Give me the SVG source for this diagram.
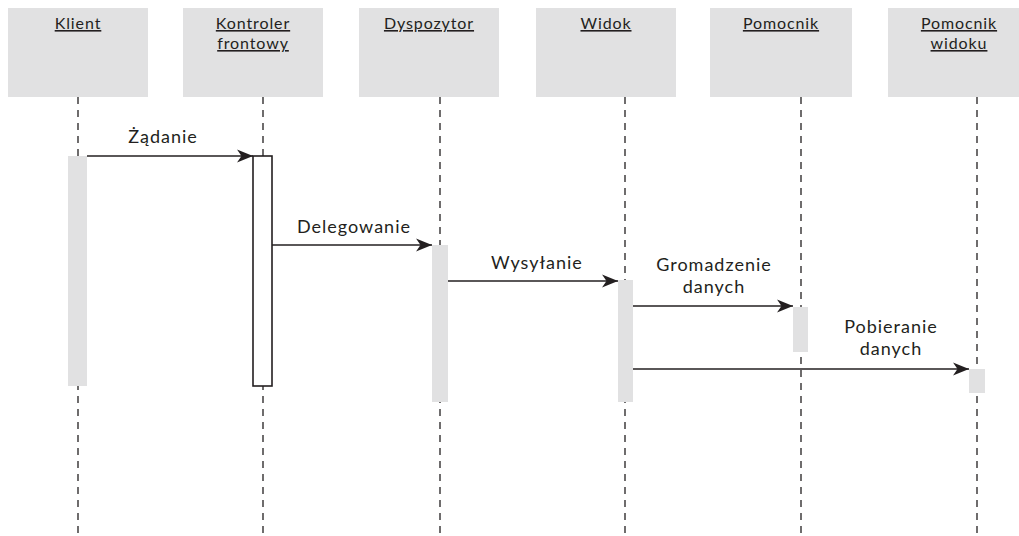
<svg xmlns="http://www.w3.org/2000/svg" width="1019" height="536" viewBox="0 0 1019 536">
<style>
.box{fill:#e1e1e2}
.life{stroke:#231f20;stroke-width:1.3;stroke-dasharray:7 6;fill:none}
.act{fill:#e1e1e2}
.hdr{font-family:Lato,"Open Sans",sans-serif;font-size:16px;letter-spacing:0.9px;fill:#231f20;text-anchor:middle;text-decoration:underline}
.lbl{font-family:Lato,"Open Sans",sans-serif;font-size:18px;letter-spacing:1px;fill:#231f20;text-anchor:middle}
.msg{stroke:#231f20;stroke-width:1.7;fill:none;marker-end:url(#ah)}
</style>
<defs>
<marker id="ah" markerWidth="18" markerHeight="14" refX="16" refY="7" orient="auto" markerUnits="userSpaceOnUse">
<path d="M0,0.5 L16,7 L0,13.5 L4.5,7 Z" fill="#231f20"/>
</marker>
</defs>
<rect width="1019" height="536" fill="#fff"/>
<g id="klient">
<rect class="box" x="8" y="8" width="140" height="89"/>
<text class="hdr" x="78" y="29">Klient</text>
<line class="life" x1="78" y1="97" x2="78" y2="536"/>
<rect class="act" x="68" y="156" width="19" height="230"/>
</g>
<g id="kontroler">
<rect class="box" x="183" y="8" width="140" height="89"/>
<text class="hdr" x="253" y="29">Kontroler</text>
<text class="hdr" x="253" y="49">frontowy</text>
<line class="life" x1="263" y1="97" x2="263" y2="536"/>
<rect x="253" y="156" width="19" height="230" fill="#fff" stroke="#231f20" stroke-width="1.6"/>
</g>
<g id="dyspozytor">
<rect class="box" x="359" y="8" width="140" height="89"/>
<text class="hdr" x="429" y="29">Dyspozytor</text>
<line class="life" x1="440" y1="97" x2="440" y2="536"/>
<rect class="act" x="432" y="245" width="16" height="157"/>
</g>
<g id="widok">
<rect class="box" x="536" y="8" width="140" height="89"/>
<text class="hdr" x="606" y="29">Widok</text>
<line class="life" x1="625" y1="97" x2="625" y2="536"/>
<rect class="act" x="618" y="280" width="15" height="122"/>
</g>
<g id="pomocnik">
<rect class="box" x="710" y="8" width="142" height="89"/>
<text class="hdr" x="781" y="29">Pomocnik</text>
<line class="life" x1="801" y1="97" x2="801" y2="536"/>
<rect class="act" x="793" y="307" width="15" height="45"/>
</g>
<g id="pomocnik-widoku">
<rect class="box" x="888" y="8" width="140" height="89"/>
<text class="hdr" x="959" y="29">Pomocnik</text>
<text class="hdr" x="959" y="49">widoku</text>
<line class="life" x1="977" y1="97" x2="977" y2="536"/>
<rect class="act" x="969" y="369" width="16" height="24"/>
</g>
<g id="connectors">
<line class="msg" x1="87" y1="156" x2="253" y2="156"/>
<line class="msg" x1="272" y1="245" x2="432" y2="245"/>
<line class="msg" x1="448" y1="281" x2="618" y2="281"/>
<line class="msg" x1="633" y1="306" x2="793" y2="306"/>
<line class="msg" x1="633" y1="369" x2="969" y2="369"/>
<text class="lbl" x="163" y="143">Żądanie</text>
<text class="lbl" x="354" y="233">Delegowanie</text>
<text class="lbl" x="537" y="269">Wysyłanie</text>
<text class="lbl" x="714" y="271">Gromadzenie</text>
<text class="lbl" x="714" y="293">danych</text>
<text class="lbl" x="891" y="333">Pobieranie</text>
<text class="lbl" x="891" y="355">danych</text>
</g>
</svg>
